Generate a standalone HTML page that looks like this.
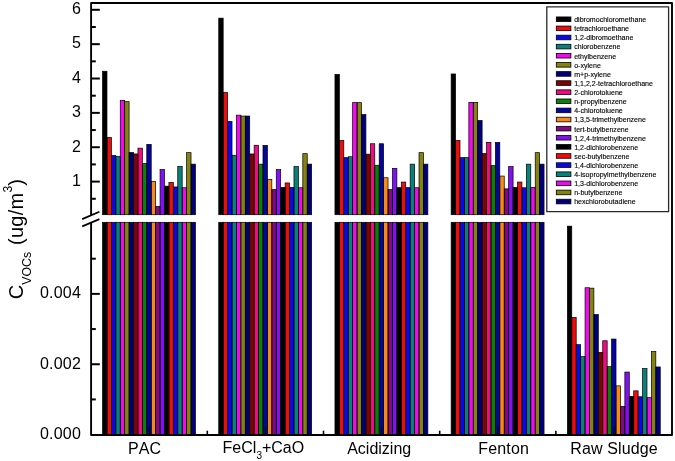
<!DOCTYPE html>
<html><head><meta charset="utf-8"><title>VOCs chart</title>
<style>
html,body{margin:0;padding:0;background:#fff;}
body{width:675px;height:461px;overflow:hidden;}
svg{display:block;will-change:transform;filter:blur(0.3px);font-kerning:none;font-family:"Liberation Sans", sans-serif;}
</style></head>
<body>
<svg width="675" height="461" viewBox="0 0 675 461">
<rect width="675" height="461" fill="#fff"/>
<rect x="102.55" y="71.25" width="4.424" height="143.45" fill="#000000"/>
<rect x="102.55" y="222.30" width="4.424" height="212.50" fill="#000000"/>
<rect x="106.97" y="137.55" width="4.424" height="77.15" fill="#EE0C0C"/>
<rect x="106.97" y="222.30" width="4.424" height="212.50" fill="#EE0C0C"/>
<rect x="111.40" y="155.55" width="4.424" height="59.15" fill="#0808EE"/>
<rect x="111.40" y="222.30" width="4.424" height="212.50" fill="#0808EE"/>
<rect x="115.82" y="156.45" width="4.424" height="58.25" fill="#0A807A"/>
<rect x="115.82" y="222.30" width="4.424" height="212.50" fill="#0A807A"/>
<rect x="120.25" y="100.45" width="4.424" height="114.25" fill="#F00AEE"/>
<rect x="120.25" y="222.30" width="4.424" height="212.50" fill="#F00AEE"/>
<rect x="124.67" y="101.65" width="4.424" height="113.05" fill="#848210"/>
<rect x="124.67" y="222.30" width="4.424" height="212.50" fill="#848210"/>
<rect x="129.09" y="152.45" width="4.424" height="62.25" fill="#00007E"/>
<rect x="129.09" y="222.30" width="4.424" height="212.50" fill="#00007E"/>
<rect x="133.52" y="153.95" width="4.424" height="60.75" fill="#7E0404"/>
<rect x="133.52" y="222.30" width="4.424" height="212.50" fill="#7E0404"/>
<rect x="137.94" y="148.15" width="4.424" height="66.55" fill="#EE0C82"/>
<rect x="137.94" y="222.30" width="4.424" height="212.50" fill="#EE0C82"/>
<rect x="142.37" y="163.45" width="4.424" height="51.25" fill="#0A800A"/>
<rect x="142.37" y="222.30" width="4.424" height="212.50" fill="#0A800A"/>
<rect x="146.79" y="144.35" width="4.424" height="70.35" fill="#0404A0"/>
<rect x="146.79" y="222.30" width="4.424" height="212.50" fill="#0404A0"/>
<rect x="151.21" y="181.35" width="4.424" height="33.35" fill="#F88818"/>
<rect x="151.21" y="222.30" width="4.424" height="212.50" fill="#F88818"/>
<rect x="155.64" y="206.45" width="4.424" height="8.25" fill="#800A80"/>
<rect x="155.64" y="222.30" width="4.424" height="212.50" fill="#800A80"/>
<rect x="160.06" y="169.55" width="4.424" height="45.15" fill="#8210F2"/>
<rect x="160.06" y="222.30" width="4.424" height="212.50" fill="#8210F2"/>
<rect x="164.49" y="186.15" width="4.424" height="28.55" fill="#000000"/>
<rect x="164.49" y="222.30" width="4.424" height="212.50" fill="#000000"/>
<rect x="168.91" y="182.45" width="4.424" height="32.25" fill="#EE0C0C"/>
<rect x="168.91" y="222.30" width="4.424" height="212.50" fill="#EE0C0C"/>
<rect x="173.33" y="186.95" width="4.424" height="27.75" fill="#0808EE"/>
<rect x="173.33" y="222.30" width="4.424" height="212.50" fill="#0808EE"/>
<rect x="177.76" y="166.35" width="4.424" height="48.35" fill="#0A807A"/>
<rect x="177.76" y="222.30" width="4.424" height="212.50" fill="#0A807A"/>
<rect x="182.18" y="187.75" width="4.424" height="26.95" fill="#F00AEE"/>
<rect x="182.18" y="222.30" width="4.424" height="212.50" fill="#F00AEE"/>
<rect x="186.61" y="152.65" width="4.424" height="62.05" fill="#848210"/>
<rect x="186.61" y="222.30" width="4.424" height="212.50" fill="#848210"/>
<rect x="191.03" y="164.15" width="4.424" height="50.55" fill="#00007E"/>
<rect x="191.03" y="222.30" width="4.424" height="212.50" fill="#00007E"/>
<rect x="218.75" y="18.15" width="4.424" height="196.55" fill="#000000"/>
<rect x="218.75" y="222.30" width="4.424" height="212.50" fill="#000000"/>
<rect x="223.17" y="92.45" width="4.424" height="122.25" fill="#EE0C0C"/>
<rect x="223.17" y="222.30" width="4.424" height="212.50" fill="#EE0C0C"/>
<rect x="227.60" y="121.35" width="4.424" height="93.35" fill="#0808EE"/>
<rect x="227.60" y="222.30" width="4.424" height="212.50" fill="#0808EE"/>
<rect x="232.02" y="155.25" width="4.424" height="59.45" fill="#0A807A"/>
<rect x="232.02" y="222.30" width="4.424" height="212.50" fill="#0A807A"/>
<rect x="236.45" y="115.15" width="4.424" height="99.55" fill="#F00AEE"/>
<rect x="236.45" y="222.30" width="4.424" height="212.50" fill="#F00AEE"/>
<rect x="240.87" y="116.05" width="4.424" height="98.65" fill="#848210"/>
<rect x="240.87" y="222.30" width="4.424" height="212.50" fill="#848210"/>
<rect x="245.29" y="116.05" width="4.424" height="98.65" fill="#00007E"/>
<rect x="245.29" y="222.30" width="4.424" height="212.50" fill="#00007E"/>
<rect x="249.72" y="153.95" width="4.424" height="60.75" fill="#7E0404"/>
<rect x="249.72" y="222.30" width="4.424" height="212.50" fill="#7E0404"/>
<rect x="254.14" y="145.25" width="4.424" height="69.45" fill="#EE0C82"/>
<rect x="254.14" y="222.30" width="4.424" height="212.50" fill="#EE0C82"/>
<rect x="258.57" y="164.15" width="4.424" height="50.55" fill="#0A800A"/>
<rect x="258.57" y="222.30" width="4.424" height="212.50" fill="#0A800A"/>
<rect x="262.99" y="145.35" width="4.424" height="69.35" fill="#0404A0"/>
<rect x="262.99" y="222.30" width="4.424" height="212.50" fill="#0404A0"/>
<rect x="267.41" y="179.35" width="4.424" height="35.35" fill="#F88818"/>
<rect x="267.41" y="222.30" width="4.424" height="212.50" fill="#F88818"/>
<rect x="271.84" y="189.55" width="4.424" height="25.15" fill="#800A80"/>
<rect x="271.84" y="222.30" width="4.424" height="212.50" fill="#800A80"/>
<rect x="276.26" y="169.55" width="4.424" height="45.15" fill="#8210F2"/>
<rect x="276.26" y="222.30" width="4.424" height="212.50" fill="#8210F2"/>
<rect x="280.69" y="187.35" width="4.424" height="27.35" fill="#000000"/>
<rect x="280.69" y="222.30" width="4.424" height="212.50" fill="#000000"/>
<rect x="285.11" y="182.95" width="4.424" height="31.75" fill="#EE0C0C"/>
<rect x="285.11" y="222.30" width="4.424" height="212.50" fill="#EE0C0C"/>
<rect x="289.53" y="187.35" width="4.424" height="27.35" fill="#0808EE"/>
<rect x="289.53" y="222.30" width="4.424" height="212.50" fill="#0808EE"/>
<rect x="293.96" y="166.55" width="4.424" height="48.15" fill="#0A807A"/>
<rect x="293.96" y="222.30" width="4.424" height="212.50" fill="#0A807A"/>
<rect x="298.38" y="187.75" width="4.424" height="26.95" fill="#F00AEE"/>
<rect x="298.38" y="222.30" width="4.424" height="212.50" fill="#F00AEE"/>
<rect x="302.81" y="153.65" width="4.424" height="61.05" fill="#848210"/>
<rect x="302.81" y="222.30" width="4.424" height="212.50" fill="#848210"/>
<rect x="307.23" y="164.15" width="4.424" height="50.55" fill="#00007E"/>
<rect x="307.23" y="222.30" width="4.424" height="212.50" fill="#00007E"/>
<rect x="334.95" y="74.35" width="4.424" height="140.35" fill="#000000"/>
<rect x="334.95" y="222.30" width="4.424" height="212.50" fill="#000000"/>
<rect x="339.37" y="140.45" width="4.424" height="74.25" fill="#EE0C0C"/>
<rect x="339.37" y="222.30" width="4.424" height="212.50" fill="#EE0C0C"/>
<rect x="343.80" y="157.65" width="4.424" height="57.05" fill="#0808EE"/>
<rect x="343.80" y="222.30" width="4.424" height="212.50" fill="#0808EE"/>
<rect x="348.22" y="156.75" width="4.424" height="57.95" fill="#0A807A"/>
<rect x="348.22" y="222.30" width="4.424" height="212.50" fill="#0A807A"/>
<rect x="352.65" y="102.65" width="4.424" height="112.05" fill="#F00AEE"/>
<rect x="352.65" y="222.30" width="4.424" height="212.50" fill="#F00AEE"/>
<rect x="357.07" y="102.65" width="4.424" height="112.05" fill="#848210"/>
<rect x="357.07" y="222.30" width="4.424" height="212.50" fill="#848210"/>
<rect x="361.49" y="114.55" width="4.424" height="100.15" fill="#00007E"/>
<rect x="361.49" y="222.30" width="4.424" height="212.50" fill="#00007E"/>
<rect x="365.92" y="154.15" width="4.424" height="60.55" fill="#7E0404"/>
<rect x="365.92" y="222.30" width="4.424" height="212.50" fill="#7E0404"/>
<rect x="370.34" y="143.75" width="4.424" height="70.95" fill="#EE0C82"/>
<rect x="370.34" y="222.30" width="4.424" height="212.50" fill="#EE0C82"/>
<rect x="374.77" y="165.25" width="4.424" height="49.45" fill="#0A800A"/>
<rect x="374.77" y="222.30" width="4.424" height="212.50" fill="#0A800A"/>
<rect x="379.19" y="143.75" width="4.424" height="70.95" fill="#0404A0"/>
<rect x="379.19" y="222.30" width="4.424" height="212.50" fill="#0404A0"/>
<rect x="383.61" y="177.75" width="4.424" height="36.95" fill="#F88818"/>
<rect x="383.61" y="222.30" width="4.424" height="212.50" fill="#F88818"/>
<rect x="388.04" y="189.55" width="4.424" height="25.15" fill="#800A80"/>
<rect x="388.04" y="222.30" width="4.424" height="212.50" fill="#800A80"/>
<rect x="392.46" y="168.35" width="4.424" height="46.35" fill="#8210F2"/>
<rect x="392.46" y="222.30" width="4.424" height="212.50" fill="#8210F2"/>
<rect x="396.89" y="187.65" width="4.424" height="27.05" fill="#000000"/>
<rect x="396.89" y="222.30" width="4.424" height="212.50" fill="#000000"/>
<rect x="401.31" y="182.05" width="4.424" height="32.65" fill="#EE0C0C"/>
<rect x="401.31" y="222.30" width="4.424" height="212.50" fill="#EE0C0C"/>
<rect x="405.73" y="187.65" width="4.424" height="27.05" fill="#0808EE"/>
<rect x="405.73" y="222.30" width="4.424" height="212.50" fill="#0808EE"/>
<rect x="410.16" y="164.15" width="4.424" height="50.55" fill="#0A807A"/>
<rect x="410.16" y="222.30" width="4.424" height="212.50" fill="#0A807A"/>
<rect x="414.58" y="187.75" width="4.424" height="26.95" fill="#F00AEE"/>
<rect x="414.58" y="222.30" width="4.424" height="212.50" fill="#F00AEE"/>
<rect x="419.01" y="152.65" width="4.424" height="62.05" fill="#848210"/>
<rect x="419.01" y="222.30" width="4.424" height="212.50" fill="#848210"/>
<rect x="423.43" y="164.15" width="4.424" height="50.55" fill="#00007E"/>
<rect x="423.43" y="222.30" width="4.424" height="212.50" fill="#00007E"/>
<rect x="451.15" y="73.95" width="4.424" height="140.75" fill="#000000"/>
<rect x="451.15" y="222.30" width="4.424" height="212.50" fill="#000000"/>
<rect x="455.57" y="140.45" width="4.424" height="74.25" fill="#EE0C0C"/>
<rect x="455.57" y="222.30" width="4.424" height="212.50" fill="#EE0C0C"/>
<rect x="460.00" y="157.65" width="4.424" height="57.05" fill="#0808EE"/>
<rect x="460.00" y="222.30" width="4.424" height="212.50" fill="#0808EE"/>
<rect x="464.42" y="157.65" width="4.424" height="57.05" fill="#0A807A"/>
<rect x="464.42" y="222.30" width="4.424" height="212.50" fill="#0A807A"/>
<rect x="468.85" y="102.35" width="4.424" height="112.35" fill="#F00AEE"/>
<rect x="468.85" y="222.30" width="4.424" height="212.50" fill="#F00AEE"/>
<rect x="473.27" y="102.35" width="4.424" height="112.35" fill="#848210"/>
<rect x="473.27" y="222.30" width="4.424" height="212.50" fill="#848210"/>
<rect x="477.69" y="120.45" width="4.424" height="94.25" fill="#00007E"/>
<rect x="477.69" y="222.30" width="4.424" height="212.50" fill="#00007E"/>
<rect x="482.12" y="153.55" width="4.424" height="61.15" fill="#7E0404"/>
<rect x="482.12" y="222.30" width="4.424" height="212.50" fill="#7E0404"/>
<rect x="486.54" y="142.35" width="4.424" height="72.35" fill="#EE0C82"/>
<rect x="486.54" y="222.30" width="4.424" height="212.50" fill="#EE0C82"/>
<rect x="490.97" y="165.65" width="4.424" height="49.05" fill="#0A800A"/>
<rect x="490.97" y="222.30" width="4.424" height="212.50" fill="#0A800A"/>
<rect x="495.39" y="142.35" width="4.424" height="72.35" fill="#0404A0"/>
<rect x="495.39" y="222.30" width="4.424" height="212.50" fill="#0404A0"/>
<rect x="499.81" y="176.05" width="4.424" height="38.65" fill="#F88818"/>
<rect x="499.81" y="222.30" width="4.424" height="212.50" fill="#F88818"/>
<rect x="504.24" y="188.85" width="4.424" height="25.85" fill="#800A80"/>
<rect x="504.24" y="222.30" width="4.424" height="212.50" fill="#800A80"/>
<rect x="508.66" y="166.55" width="4.424" height="48.15" fill="#8210F2"/>
<rect x="508.66" y="222.30" width="4.424" height="212.50" fill="#8210F2"/>
<rect x="513.09" y="187.35" width="4.424" height="27.35" fill="#000000"/>
<rect x="513.09" y="222.30" width="4.424" height="212.50" fill="#000000"/>
<rect x="517.51" y="182.05" width="4.424" height="32.65" fill="#EE0C0C"/>
<rect x="517.51" y="222.30" width="4.424" height="212.50" fill="#EE0C0C"/>
<rect x="521.93" y="187.75" width="4.424" height="26.95" fill="#0808EE"/>
<rect x="521.93" y="222.30" width="4.424" height="212.50" fill="#0808EE"/>
<rect x="526.36" y="164.15" width="4.424" height="50.55" fill="#0A807A"/>
<rect x="526.36" y="222.30" width="4.424" height="212.50" fill="#0A807A"/>
<rect x="530.78" y="187.35" width="4.424" height="27.35" fill="#F00AEE"/>
<rect x="530.78" y="222.30" width="4.424" height="212.50" fill="#F00AEE"/>
<rect x="535.21" y="152.65" width="4.424" height="62.05" fill="#848210"/>
<rect x="535.21" y="222.30" width="4.424" height="212.50" fill="#848210"/>
<rect x="539.63" y="164.15" width="4.424" height="50.55" fill="#00007E"/>
<rect x="539.63" y="222.30" width="4.424" height="212.50" fill="#00007E"/>
<rect x="567.35" y="226.15" width="4.424" height="208.65" fill="#000000"/>
<rect x="571.77" y="317.35" width="4.424" height="117.45" fill="#EE0C0C"/>
<rect x="576.20" y="344.65" width="4.424" height="90.15" fill="#0808EE"/>
<rect x="580.62" y="356.65" width="4.424" height="78.15" fill="#0A807A"/>
<rect x="585.05" y="287.75" width="4.424" height="147.05" fill="#F00AEE"/>
<rect x="589.47" y="288.15" width="4.424" height="146.65" fill="#848210"/>
<rect x="593.89" y="314.55" width="4.424" height="120.25" fill="#00007E"/>
<rect x="598.32" y="352.35" width="4.424" height="82.45" fill="#7E0404"/>
<rect x="602.74" y="340.75" width="4.424" height="94.05" fill="#EE0C82"/>
<rect x="607.17" y="366.65" width="4.424" height="68.15" fill="#0A800A"/>
<rect x="611.59" y="339.05" width="4.424" height="95.75" fill="#0404A0"/>
<rect x="616.01" y="385.85" width="4.424" height="48.95" fill="#F88818"/>
<rect x="620.44" y="406.35" width="4.424" height="28.45" fill="#800A80"/>
<rect x="624.86" y="372.05" width="4.424" height="62.75" fill="#8210F2"/>
<rect x="629.29" y="396.35" width="4.424" height="38.45" fill="#000000"/>
<rect x="633.71" y="390.85" width="4.424" height="43.95" fill="#EE0C0C"/>
<rect x="638.13" y="396.75" width="4.424" height="38.05" fill="#0808EE"/>
<rect x="642.56" y="368.55" width="4.424" height="66.25" fill="#0A807A"/>
<rect x="646.98" y="397.65" width="4.424" height="37.15" fill="#F00AEE"/>
<rect x="651.41" y="351.55" width="4.424" height="83.25" fill="#848210"/>
<rect x="655.83" y="366.95" width="4.424" height="67.85" fill="#00007E"/>
<rect x="102.55" y="71.25" width="4.424" height="143.45" fill="none" stroke="#000" stroke-width="0.7"/>
<rect x="102.55" y="222.30" width="4.424" height="212.50" fill="none" stroke="#000" stroke-width="0.7"/>
<rect x="106.97" y="137.55" width="4.424" height="77.15" fill="none" stroke="#000" stroke-width="0.7"/>
<rect x="106.97" y="222.30" width="4.424" height="212.50" fill="none" stroke="#000" stroke-width="0.7"/>
<rect x="111.40" y="155.55" width="4.424" height="59.15" fill="none" stroke="#000" stroke-width="0.7"/>
<rect x="111.40" y="222.30" width="4.424" height="212.50" fill="none" stroke="#000" stroke-width="0.7"/>
<rect x="115.82" y="156.45" width="4.424" height="58.25" fill="none" stroke="#000" stroke-width="0.7"/>
<rect x="115.82" y="222.30" width="4.424" height="212.50" fill="none" stroke="#000" stroke-width="0.7"/>
<rect x="120.25" y="100.45" width="4.424" height="114.25" fill="none" stroke="#000" stroke-width="0.7"/>
<rect x="120.25" y="222.30" width="4.424" height="212.50" fill="none" stroke="#000" stroke-width="0.7"/>
<rect x="124.67" y="101.65" width="4.424" height="113.05" fill="none" stroke="#000" stroke-width="0.7"/>
<rect x="124.67" y="222.30" width="4.424" height="212.50" fill="none" stroke="#000" stroke-width="0.7"/>
<rect x="129.09" y="152.45" width="4.424" height="62.25" fill="none" stroke="#000" stroke-width="0.7"/>
<rect x="129.09" y="222.30" width="4.424" height="212.50" fill="none" stroke="#000" stroke-width="0.7"/>
<rect x="133.52" y="153.95" width="4.424" height="60.75" fill="none" stroke="#000" stroke-width="0.7"/>
<rect x="133.52" y="222.30" width="4.424" height="212.50" fill="none" stroke="#000" stroke-width="0.7"/>
<rect x="137.94" y="148.15" width="4.424" height="66.55" fill="none" stroke="#000" stroke-width="0.7"/>
<rect x="137.94" y="222.30" width="4.424" height="212.50" fill="none" stroke="#000" stroke-width="0.7"/>
<rect x="142.37" y="163.45" width="4.424" height="51.25" fill="none" stroke="#000" stroke-width="0.7"/>
<rect x="142.37" y="222.30" width="4.424" height="212.50" fill="none" stroke="#000" stroke-width="0.7"/>
<rect x="146.79" y="144.35" width="4.424" height="70.35" fill="none" stroke="#000" stroke-width="0.7"/>
<rect x="146.79" y="222.30" width="4.424" height="212.50" fill="none" stroke="#000" stroke-width="0.7"/>
<rect x="151.21" y="181.35" width="4.424" height="33.35" fill="none" stroke="#000" stroke-width="0.7"/>
<rect x="151.21" y="222.30" width="4.424" height="212.50" fill="none" stroke="#000" stroke-width="0.7"/>
<rect x="155.64" y="206.45" width="4.424" height="8.25" fill="none" stroke="#000" stroke-width="0.7"/>
<rect x="155.64" y="222.30" width="4.424" height="212.50" fill="none" stroke="#000" stroke-width="0.7"/>
<rect x="160.06" y="169.55" width="4.424" height="45.15" fill="none" stroke="#000" stroke-width="0.7"/>
<rect x="160.06" y="222.30" width="4.424" height="212.50" fill="none" stroke="#000" stroke-width="0.7"/>
<rect x="164.49" y="186.15" width="4.424" height="28.55" fill="none" stroke="#000" stroke-width="0.7"/>
<rect x="164.49" y="222.30" width="4.424" height="212.50" fill="none" stroke="#000" stroke-width="0.7"/>
<rect x="168.91" y="182.45" width="4.424" height="32.25" fill="none" stroke="#000" stroke-width="0.7"/>
<rect x="168.91" y="222.30" width="4.424" height="212.50" fill="none" stroke="#000" stroke-width="0.7"/>
<rect x="173.33" y="186.95" width="4.424" height="27.75" fill="none" stroke="#000" stroke-width="0.7"/>
<rect x="173.33" y="222.30" width="4.424" height="212.50" fill="none" stroke="#000" stroke-width="0.7"/>
<rect x="177.76" y="166.35" width="4.424" height="48.35" fill="none" stroke="#000" stroke-width="0.7"/>
<rect x="177.76" y="222.30" width="4.424" height="212.50" fill="none" stroke="#000" stroke-width="0.7"/>
<rect x="182.18" y="187.75" width="4.424" height="26.95" fill="none" stroke="#000" stroke-width="0.7"/>
<rect x="182.18" y="222.30" width="4.424" height="212.50" fill="none" stroke="#000" stroke-width="0.7"/>
<rect x="186.61" y="152.65" width="4.424" height="62.05" fill="none" stroke="#000" stroke-width="0.7"/>
<rect x="186.61" y="222.30" width="4.424" height="212.50" fill="none" stroke="#000" stroke-width="0.7"/>
<rect x="191.03" y="164.15" width="4.424" height="50.55" fill="none" stroke="#000" stroke-width="0.7"/>
<rect x="191.03" y="222.30" width="4.424" height="212.50" fill="none" stroke="#000" stroke-width="0.7"/>
<rect x="218.75" y="18.15" width="4.424" height="196.55" fill="none" stroke="#000" stroke-width="0.7"/>
<rect x="218.75" y="222.30" width="4.424" height="212.50" fill="none" stroke="#000" stroke-width="0.7"/>
<rect x="223.17" y="92.45" width="4.424" height="122.25" fill="none" stroke="#000" stroke-width="0.7"/>
<rect x="223.17" y="222.30" width="4.424" height="212.50" fill="none" stroke="#000" stroke-width="0.7"/>
<rect x="227.60" y="121.35" width="4.424" height="93.35" fill="none" stroke="#000" stroke-width="0.7"/>
<rect x="227.60" y="222.30" width="4.424" height="212.50" fill="none" stroke="#000" stroke-width="0.7"/>
<rect x="232.02" y="155.25" width="4.424" height="59.45" fill="none" stroke="#000" stroke-width="0.7"/>
<rect x="232.02" y="222.30" width="4.424" height="212.50" fill="none" stroke="#000" stroke-width="0.7"/>
<rect x="236.45" y="115.15" width="4.424" height="99.55" fill="none" stroke="#000" stroke-width="0.7"/>
<rect x="236.45" y="222.30" width="4.424" height="212.50" fill="none" stroke="#000" stroke-width="0.7"/>
<rect x="240.87" y="116.05" width="4.424" height="98.65" fill="none" stroke="#000" stroke-width="0.7"/>
<rect x="240.87" y="222.30" width="4.424" height="212.50" fill="none" stroke="#000" stroke-width="0.7"/>
<rect x="245.29" y="116.05" width="4.424" height="98.65" fill="none" stroke="#000" stroke-width="0.7"/>
<rect x="245.29" y="222.30" width="4.424" height="212.50" fill="none" stroke="#000" stroke-width="0.7"/>
<rect x="249.72" y="153.95" width="4.424" height="60.75" fill="none" stroke="#000" stroke-width="0.7"/>
<rect x="249.72" y="222.30" width="4.424" height="212.50" fill="none" stroke="#000" stroke-width="0.7"/>
<rect x="254.14" y="145.25" width="4.424" height="69.45" fill="none" stroke="#000" stroke-width="0.7"/>
<rect x="254.14" y="222.30" width="4.424" height="212.50" fill="none" stroke="#000" stroke-width="0.7"/>
<rect x="258.57" y="164.15" width="4.424" height="50.55" fill="none" stroke="#000" stroke-width="0.7"/>
<rect x="258.57" y="222.30" width="4.424" height="212.50" fill="none" stroke="#000" stroke-width="0.7"/>
<rect x="262.99" y="145.35" width="4.424" height="69.35" fill="none" stroke="#000" stroke-width="0.7"/>
<rect x="262.99" y="222.30" width="4.424" height="212.50" fill="none" stroke="#000" stroke-width="0.7"/>
<rect x="267.41" y="179.35" width="4.424" height="35.35" fill="none" stroke="#000" stroke-width="0.7"/>
<rect x="267.41" y="222.30" width="4.424" height="212.50" fill="none" stroke="#000" stroke-width="0.7"/>
<rect x="271.84" y="189.55" width="4.424" height="25.15" fill="none" stroke="#000" stroke-width="0.7"/>
<rect x="271.84" y="222.30" width="4.424" height="212.50" fill="none" stroke="#000" stroke-width="0.7"/>
<rect x="276.26" y="169.55" width="4.424" height="45.15" fill="none" stroke="#000" stroke-width="0.7"/>
<rect x="276.26" y="222.30" width="4.424" height="212.50" fill="none" stroke="#000" stroke-width="0.7"/>
<rect x="280.69" y="187.35" width="4.424" height="27.35" fill="none" stroke="#000" stroke-width="0.7"/>
<rect x="280.69" y="222.30" width="4.424" height="212.50" fill="none" stroke="#000" stroke-width="0.7"/>
<rect x="285.11" y="182.95" width="4.424" height="31.75" fill="none" stroke="#000" stroke-width="0.7"/>
<rect x="285.11" y="222.30" width="4.424" height="212.50" fill="none" stroke="#000" stroke-width="0.7"/>
<rect x="289.53" y="187.35" width="4.424" height="27.35" fill="none" stroke="#000" stroke-width="0.7"/>
<rect x="289.53" y="222.30" width="4.424" height="212.50" fill="none" stroke="#000" stroke-width="0.7"/>
<rect x="293.96" y="166.55" width="4.424" height="48.15" fill="none" stroke="#000" stroke-width="0.7"/>
<rect x="293.96" y="222.30" width="4.424" height="212.50" fill="none" stroke="#000" stroke-width="0.7"/>
<rect x="298.38" y="187.75" width="4.424" height="26.95" fill="none" stroke="#000" stroke-width="0.7"/>
<rect x="298.38" y="222.30" width="4.424" height="212.50" fill="none" stroke="#000" stroke-width="0.7"/>
<rect x="302.81" y="153.65" width="4.424" height="61.05" fill="none" stroke="#000" stroke-width="0.7"/>
<rect x="302.81" y="222.30" width="4.424" height="212.50" fill="none" stroke="#000" stroke-width="0.7"/>
<rect x="307.23" y="164.15" width="4.424" height="50.55" fill="none" stroke="#000" stroke-width="0.7"/>
<rect x="307.23" y="222.30" width="4.424" height="212.50" fill="none" stroke="#000" stroke-width="0.7"/>
<rect x="334.95" y="74.35" width="4.424" height="140.35" fill="none" stroke="#000" stroke-width="0.7"/>
<rect x="334.95" y="222.30" width="4.424" height="212.50" fill="none" stroke="#000" stroke-width="0.7"/>
<rect x="339.37" y="140.45" width="4.424" height="74.25" fill="none" stroke="#000" stroke-width="0.7"/>
<rect x="339.37" y="222.30" width="4.424" height="212.50" fill="none" stroke="#000" stroke-width="0.7"/>
<rect x="343.80" y="157.65" width="4.424" height="57.05" fill="none" stroke="#000" stroke-width="0.7"/>
<rect x="343.80" y="222.30" width="4.424" height="212.50" fill="none" stroke="#000" stroke-width="0.7"/>
<rect x="348.22" y="156.75" width="4.424" height="57.95" fill="none" stroke="#000" stroke-width="0.7"/>
<rect x="348.22" y="222.30" width="4.424" height="212.50" fill="none" stroke="#000" stroke-width="0.7"/>
<rect x="352.65" y="102.65" width="4.424" height="112.05" fill="none" stroke="#000" stroke-width="0.7"/>
<rect x="352.65" y="222.30" width="4.424" height="212.50" fill="none" stroke="#000" stroke-width="0.7"/>
<rect x="357.07" y="102.65" width="4.424" height="112.05" fill="none" stroke="#000" stroke-width="0.7"/>
<rect x="357.07" y="222.30" width="4.424" height="212.50" fill="none" stroke="#000" stroke-width="0.7"/>
<rect x="361.49" y="114.55" width="4.424" height="100.15" fill="none" stroke="#000" stroke-width="0.7"/>
<rect x="361.49" y="222.30" width="4.424" height="212.50" fill="none" stroke="#000" stroke-width="0.7"/>
<rect x="365.92" y="154.15" width="4.424" height="60.55" fill="none" stroke="#000" stroke-width="0.7"/>
<rect x="365.92" y="222.30" width="4.424" height="212.50" fill="none" stroke="#000" stroke-width="0.7"/>
<rect x="370.34" y="143.75" width="4.424" height="70.95" fill="none" stroke="#000" stroke-width="0.7"/>
<rect x="370.34" y="222.30" width="4.424" height="212.50" fill="none" stroke="#000" stroke-width="0.7"/>
<rect x="374.77" y="165.25" width="4.424" height="49.45" fill="none" stroke="#000" stroke-width="0.7"/>
<rect x="374.77" y="222.30" width="4.424" height="212.50" fill="none" stroke="#000" stroke-width="0.7"/>
<rect x="379.19" y="143.75" width="4.424" height="70.95" fill="none" stroke="#000" stroke-width="0.7"/>
<rect x="379.19" y="222.30" width="4.424" height="212.50" fill="none" stroke="#000" stroke-width="0.7"/>
<rect x="383.61" y="177.75" width="4.424" height="36.95" fill="none" stroke="#000" stroke-width="0.7"/>
<rect x="383.61" y="222.30" width="4.424" height="212.50" fill="none" stroke="#000" stroke-width="0.7"/>
<rect x="388.04" y="189.55" width="4.424" height="25.15" fill="none" stroke="#000" stroke-width="0.7"/>
<rect x="388.04" y="222.30" width="4.424" height="212.50" fill="none" stroke="#000" stroke-width="0.7"/>
<rect x="392.46" y="168.35" width="4.424" height="46.35" fill="none" stroke="#000" stroke-width="0.7"/>
<rect x="392.46" y="222.30" width="4.424" height="212.50" fill="none" stroke="#000" stroke-width="0.7"/>
<rect x="396.89" y="187.65" width="4.424" height="27.05" fill="none" stroke="#000" stroke-width="0.7"/>
<rect x="396.89" y="222.30" width="4.424" height="212.50" fill="none" stroke="#000" stroke-width="0.7"/>
<rect x="401.31" y="182.05" width="4.424" height="32.65" fill="none" stroke="#000" stroke-width="0.7"/>
<rect x="401.31" y="222.30" width="4.424" height="212.50" fill="none" stroke="#000" stroke-width="0.7"/>
<rect x="405.73" y="187.65" width="4.424" height="27.05" fill="none" stroke="#000" stroke-width="0.7"/>
<rect x="405.73" y="222.30" width="4.424" height="212.50" fill="none" stroke="#000" stroke-width="0.7"/>
<rect x="410.16" y="164.15" width="4.424" height="50.55" fill="none" stroke="#000" stroke-width="0.7"/>
<rect x="410.16" y="222.30" width="4.424" height="212.50" fill="none" stroke="#000" stroke-width="0.7"/>
<rect x="414.58" y="187.75" width="4.424" height="26.95" fill="none" stroke="#000" stroke-width="0.7"/>
<rect x="414.58" y="222.30" width="4.424" height="212.50" fill="none" stroke="#000" stroke-width="0.7"/>
<rect x="419.01" y="152.65" width="4.424" height="62.05" fill="none" stroke="#000" stroke-width="0.7"/>
<rect x="419.01" y="222.30" width="4.424" height="212.50" fill="none" stroke="#000" stroke-width="0.7"/>
<rect x="423.43" y="164.15" width="4.424" height="50.55" fill="none" stroke="#000" stroke-width="0.7"/>
<rect x="423.43" y="222.30" width="4.424" height="212.50" fill="none" stroke="#000" stroke-width="0.7"/>
<rect x="451.15" y="73.95" width="4.424" height="140.75" fill="none" stroke="#000" stroke-width="0.7"/>
<rect x="451.15" y="222.30" width="4.424" height="212.50" fill="none" stroke="#000" stroke-width="0.7"/>
<rect x="455.57" y="140.45" width="4.424" height="74.25" fill="none" stroke="#000" stroke-width="0.7"/>
<rect x="455.57" y="222.30" width="4.424" height="212.50" fill="none" stroke="#000" stroke-width="0.7"/>
<rect x="460.00" y="157.65" width="4.424" height="57.05" fill="none" stroke="#000" stroke-width="0.7"/>
<rect x="460.00" y="222.30" width="4.424" height="212.50" fill="none" stroke="#000" stroke-width="0.7"/>
<rect x="464.42" y="157.65" width="4.424" height="57.05" fill="none" stroke="#000" stroke-width="0.7"/>
<rect x="464.42" y="222.30" width="4.424" height="212.50" fill="none" stroke="#000" stroke-width="0.7"/>
<rect x="468.85" y="102.35" width="4.424" height="112.35" fill="none" stroke="#000" stroke-width="0.7"/>
<rect x="468.85" y="222.30" width="4.424" height="212.50" fill="none" stroke="#000" stroke-width="0.7"/>
<rect x="473.27" y="102.35" width="4.424" height="112.35" fill="none" stroke="#000" stroke-width="0.7"/>
<rect x="473.27" y="222.30" width="4.424" height="212.50" fill="none" stroke="#000" stroke-width="0.7"/>
<rect x="477.69" y="120.45" width="4.424" height="94.25" fill="none" stroke="#000" stroke-width="0.7"/>
<rect x="477.69" y="222.30" width="4.424" height="212.50" fill="none" stroke="#000" stroke-width="0.7"/>
<rect x="482.12" y="153.55" width="4.424" height="61.15" fill="none" stroke="#000" stroke-width="0.7"/>
<rect x="482.12" y="222.30" width="4.424" height="212.50" fill="none" stroke="#000" stroke-width="0.7"/>
<rect x="486.54" y="142.35" width="4.424" height="72.35" fill="none" stroke="#000" stroke-width="0.7"/>
<rect x="486.54" y="222.30" width="4.424" height="212.50" fill="none" stroke="#000" stroke-width="0.7"/>
<rect x="490.97" y="165.65" width="4.424" height="49.05" fill="none" stroke="#000" stroke-width="0.7"/>
<rect x="490.97" y="222.30" width="4.424" height="212.50" fill="none" stroke="#000" stroke-width="0.7"/>
<rect x="495.39" y="142.35" width="4.424" height="72.35" fill="none" stroke="#000" stroke-width="0.7"/>
<rect x="495.39" y="222.30" width="4.424" height="212.50" fill="none" stroke="#000" stroke-width="0.7"/>
<rect x="499.81" y="176.05" width="4.424" height="38.65" fill="none" stroke="#000" stroke-width="0.7"/>
<rect x="499.81" y="222.30" width="4.424" height="212.50" fill="none" stroke="#000" stroke-width="0.7"/>
<rect x="504.24" y="188.85" width="4.424" height="25.85" fill="none" stroke="#000" stroke-width="0.7"/>
<rect x="504.24" y="222.30" width="4.424" height="212.50" fill="none" stroke="#000" stroke-width="0.7"/>
<rect x="508.66" y="166.55" width="4.424" height="48.15" fill="none" stroke="#000" stroke-width="0.7"/>
<rect x="508.66" y="222.30" width="4.424" height="212.50" fill="none" stroke="#000" stroke-width="0.7"/>
<rect x="513.09" y="187.35" width="4.424" height="27.35" fill="none" stroke="#000" stroke-width="0.7"/>
<rect x="513.09" y="222.30" width="4.424" height="212.50" fill="none" stroke="#000" stroke-width="0.7"/>
<rect x="517.51" y="182.05" width="4.424" height="32.65" fill="none" stroke="#000" stroke-width="0.7"/>
<rect x="517.51" y="222.30" width="4.424" height="212.50" fill="none" stroke="#000" stroke-width="0.7"/>
<rect x="521.93" y="187.75" width="4.424" height="26.95" fill="none" stroke="#000" stroke-width="0.7"/>
<rect x="521.93" y="222.30" width="4.424" height="212.50" fill="none" stroke="#000" stroke-width="0.7"/>
<rect x="526.36" y="164.15" width="4.424" height="50.55" fill="none" stroke="#000" stroke-width="0.7"/>
<rect x="526.36" y="222.30" width="4.424" height="212.50" fill="none" stroke="#000" stroke-width="0.7"/>
<rect x="530.78" y="187.35" width="4.424" height="27.35" fill="none" stroke="#000" stroke-width="0.7"/>
<rect x="530.78" y="222.30" width="4.424" height="212.50" fill="none" stroke="#000" stroke-width="0.7"/>
<rect x="535.21" y="152.65" width="4.424" height="62.05" fill="none" stroke="#000" stroke-width="0.7"/>
<rect x="535.21" y="222.30" width="4.424" height="212.50" fill="none" stroke="#000" stroke-width="0.7"/>
<rect x="539.63" y="164.15" width="4.424" height="50.55" fill="none" stroke="#000" stroke-width="0.7"/>
<rect x="539.63" y="222.30" width="4.424" height="212.50" fill="none" stroke="#000" stroke-width="0.7"/>
<rect x="567.35" y="226.15" width="4.424" height="208.65" fill="none" stroke="#000" stroke-width="0.7"/>
<rect x="571.77" y="317.35" width="4.424" height="117.45" fill="none" stroke="#000" stroke-width="0.7"/>
<rect x="576.20" y="344.65" width="4.424" height="90.15" fill="none" stroke="#000" stroke-width="0.7"/>
<rect x="580.62" y="356.65" width="4.424" height="78.15" fill="none" stroke="#000" stroke-width="0.7"/>
<rect x="585.05" y="287.75" width="4.424" height="147.05" fill="none" stroke="#000" stroke-width="0.7"/>
<rect x="589.47" y="288.15" width="4.424" height="146.65" fill="none" stroke="#000" stroke-width="0.7"/>
<rect x="593.89" y="314.55" width="4.424" height="120.25" fill="none" stroke="#000" stroke-width="0.7"/>
<rect x="598.32" y="352.35" width="4.424" height="82.45" fill="none" stroke="#000" stroke-width="0.7"/>
<rect x="602.74" y="340.75" width="4.424" height="94.05" fill="none" stroke="#000" stroke-width="0.7"/>
<rect x="607.17" y="366.65" width="4.424" height="68.15" fill="none" stroke="#000" stroke-width="0.7"/>
<rect x="611.59" y="339.05" width="4.424" height="95.75" fill="none" stroke="#000" stroke-width="0.7"/>
<rect x="616.01" y="385.85" width="4.424" height="48.95" fill="none" stroke="#000" stroke-width="0.7"/>
<rect x="620.44" y="406.35" width="4.424" height="28.45" fill="none" stroke="#000" stroke-width="0.7"/>
<rect x="624.86" y="372.05" width="4.424" height="62.75" fill="none" stroke="#000" stroke-width="0.7"/>
<rect x="629.29" y="396.35" width="4.424" height="38.45" fill="none" stroke="#000" stroke-width="0.7"/>
<rect x="633.71" y="390.85" width="4.424" height="43.95" fill="none" stroke="#000" stroke-width="0.7"/>
<rect x="638.13" y="396.75" width="4.424" height="38.05" fill="none" stroke="#000" stroke-width="0.7"/>
<rect x="642.56" y="368.55" width="4.424" height="66.25" fill="none" stroke="#000" stroke-width="0.7"/>
<rect x="646.98" y="397.65" width="4.424" height="37.15" fill="none" stroke="#000" stroke-width="0.7"/>
<rect x="651.41" y="351.55" width="4.424" height="83.25" fill="none" stroke="#000" stroke-width="0.7"/>
<rect x="655.83" y="366.95" width="4.424" height="67.85" fill="none" stroke="#000" stroke-width="0.7"/>
<path d="M91.10,215.3 L91.10,3.00 L672.00,3.00 L672.00,435.00 L91.10,435.00 L91.10,222.7" fill="none" stroke="#000" stroke-width="1.9" stroke-linejoin="round"/>
<line x1="82.2" y1="219.1" x2="99.4" y2="211.7" stroke="#000" stroke-width="1.7"/>
<line x1="82.2" y1="226.4" x2="99.4" y2="219.1" stroke="#000" stroke-width="1.7"/>
<line x1="91.10" y1="198.78" x2="95.80" y2="198.78" stroke="#000" stroke-width="2.0"/>
<line x1="91.10" y1="181.60" x2="99.80" y2="181.60" stroke="#000" stroke-width="2.0"/>
<line x1="91.10" y1="164.42" x2="95.80" y2="164.42" stroke="#000" stroke-width="2.0"/>
<line x1="91.10" y1="147.24" x2="99.80" y2="147.24" stroke="#000" stroke-width="2.0"/>
<line x1="91.10" y1="130.06" x2="95.80" y2="130.06" stroke="#000" stroke-width="2.0"/>
<line x1="91.10" y1="112.88" x2="99.80" y2="112.88" stroke="#000" stroke-width="2.0"/>
<line x1="91.10" y1="95.70" x2="95.80" y2="95.70" stroke="#000" stroke-width="2.0"/>
<line x1="91.10" y1="78.52" x2="99.80" y2="78.52" stroke="#000" stroke-width="2.0"/>
<line x1="91.10" y1="61.34" x2="95.80" y2="61.34" stroke="#000" stroke-width="2.0"/>
<line x1="91.10" y1="44.16" x2="99.80" y2="44.16" stroke="#000" stroke-width="2.0"/>
<line x1="91.10" y1="26.98" x2="95.80" y2="26.98" stroke="#000" stroke-width="2.0"/>
<line x1="91.10" y1="9.80" x2="99.80" y2="9.80" stroke="#000" stroke-width="2.0"/>
<line x1="91.10" y1="399.42" x2="95.80" y2="399.42" stroke="#000" stroke-width="2.0"/>
<line x1="91.10" y1="364.24" x2="99.80" y2="364.24" stroke="#000" stroke-width="2.0"/>
<line x1="91.10" y1="329.06" x2="95.80" y2="329.06" stroke="#000" stroke-width="2.0"/>
<line x1="91.10" y1="293.88" x2="99.80" y2="293.88" stroke="#000" stroke-width="2.0"/>
<line x1="91.10" y1="258.70" x2="95.80" y2="258.70" stroke="#000" stroke-width="2.0"/>
<line x1="149.20" y1="435.00" x2="149.20" y2="427.00" stroke="#000" stroke-width="1.0"/>
<line x1="265.40" y1="435.00" x2="265.40" y2="427.00" stroke="#000" stroke-width="1.0"/>
<line x1="381.60" y1="435.00" x2="381.60" y2="427.00" stroke="#000" stroke-width="1.0"/>
<line x1="497.80" y1="435.00" x2="497.80" y2="427.00" stroke="#000" stroke-width="1.0"/>
<line x1="614.00" y1="435.00" x2="614.00" y2="427.00" stroke="#000" stroke-width="1.0"/>
<line x1="207.30" y1="435.00" x2="207.30" y2="430.70" stroke="#000" stroke-width="1.6"/>
<line x1="323.50" y1="435.00" x2="323.50" y2="430.70" stroke="#000" stroke-width="1.6"/>
<line x1="439.70" y1="435.00" x2="439.70" y2="430.70" stroke="#000" stroke-width="1.6"/>
<line x1="555.90" y1="435.00" x2="555.90" y2="430.70" stroke="#000" stroke-width="1.6"/>
<text x="80.9" y="186.05" text-anchor="end" font-size="16">1</text>
<text x="80.9" y="151.60" text-anchor="end" font-size="16">2</text>
<text x="80.9" y="117.15" text-anchor="end" font-size="16">3</text>
<text x="80.9" y="82.70" text-anchor="end" font-size="16">4</text>
<text x="80.9" y="48.25" text-anchor="end" font-size="16">5</text>
<text x="80.9" y="13.80" text-anchor="end" font-size="16">6</text>
<text x="81.0" y="439.20" text-anchor="end" font-size="16" letter-spacing="0.2">0.000</text>
<text x="81.0" y="368.54" text-anchor="end" font-size="16" letter-spacing="0.2">0.002</text>
<text x="81.0" y="297.88" text-anchor="end" font-size="16" letter-spacing="0.2">0.004</text>
<text x="128.1" y="454.0" font-size="16">PAC</text>
<text x="222.6" y="453.2" font-size="16" style="font-kerning:normal">FeCl<tspan font-size="10" dy="5.6">3</tspan><tspan dy="-5.6">+CaO</tspan></text>
<text x="347.2" y="453.6" font-size="16">Acidizing</text>
<text x="478.2" y="453.8" font-size="16" letter-spacing="0.2">Fenton</text>
<text x="570.3" y="454.4" font-size="16" letter-spacing="0.12">Raw Sludge</text>
<text transform="translate(23.3,299.3) rotate(-90)" font-size="20">C<tspan font-size="12.4" dy="7.4">VOCs</tspan><tspan dy="-7.4" dx="0.9" letter-spacing="0.3"> (ug/m</tspan><tspan font-size="12.2" dy="-11.2">3</tspan><tspan dy="11.2">)</tspan></text>
<rect x="546.8" y="6.8" width="121.80" height="204.90" fill="#fff" stroke="#2a2a2a" stroke-width="1.3" stroke-linejoin="round"/>
<rect x="556.3" y="16.95" width="14.6" height="4.6" fill="#000000" stroke="#000" stroke-width="0.8"/>
<text x="574.2" y="22.15" font-size="7.05" fill="#000" stroke="#000" stroke-width="0.12">dibromochloromethane</text>
<rect x="556.3" y="26.07" width="14.6" height="4.6" fill="#EE0C0C" stroke="#000" stroke-width="0.8"/>
<text x="574.2" y="31.27" font-size="7.05" fill="#000" stroke="#000" stroke-width="0.12">tetrachloroethane</text>
<rect x="556.3" y="35.18" width="14.6" height="4.6" fill="#0808EE" stroke="#000" stroke-width="0.8"/>
<text x="574.2" y="40.38" font-size="7.05" fill="#000" stroke="#000" stroke-width="0.12">1,2-dibromoethane</text>
<rect x="556.3" y="44.30" width="14.6" height="4.6" fill="#0A807A" stroke="#000" stroke-width="0.8"/>
<text x="574.2" y="49.49" font-size="7.05" fill="#000" stroke="#000" stroke-width="0.12">chlorobenzene</text>
<rect x="556.3" y="53.41" width="14.6" height="4.6" fill="#F00AEE" stroke="#000" stroke-width="0.8"/>
<text x="574.2" y="58.61" font-size="7.05" fill="#000" stroke="#000" stroke-width="0.12">ethylbenzene</text>
<rect x="556.3" y="62.53" width="14.6" height="4.6" fill="#848210" stroke="#000" stroke-width="0.8"/>
<text x="574.2" y="67.73" font-size="7.05" fill="#000" stroke="#000" stroke-width="0.12">o-xylene</text>
<rect x="556.3" y="71.64" width="14.6" height="4.6" fill="#00007E" stroke="#000" stroke-width="0.8"/>
<text x="574.2" y="76.84" font-size="7.05" fill="#000" stroke="#000" stroke-width="0.12">m+p-xylene</text>
<rect x="556.3" y="80.76" width="14.6" height="4.6" fill="#7E0404" stroke="#000" stroke-width="0.8"/>
<text x="574.2" y="85.96" font-size="7.05" fill="#000" stroke="#000" stroke-width="0.12">1,1,2,2-tetrachloroethane</text>
<rect x="556.3" y="89.87" width="14.6" height="4.6" fill="#EE0C82" stroke="#000" stroke-width="0.8"/>
<text x="574.2" y="95.07" font-size="7.05" fill="#000" stroke="#000" stroke-width="0.12">2-chlorotoluene</text>
<rect x="556.3" y="98.98" width="14.6" height="4.6" fill="#0A800A" stroke="#000" stroke-width="0.8"/>
<text x="574.2" y="104.19" font-size="7.05" fill="#000" stroke="#000" stroke-width="0.12">n-propylbenzene</text>
<rect x="556.3" y="108.10" width="14.6" height="4.6" fill="#0404A0" stroke="#000" stroke-width="0.8"/>
<text x="574.2" y="113.30" font-size="7.05" fill="#000" stroke="#000" stroke-width="0.12">4-chlorotoluene</text>
<rect x="556.3" y="117.22" width="14.6" height="4.6" fill="#F88818" stroke="#000" stroke-width="0.8"/>
<text x="574.2" y="122.42" font-size="7.05" fill="#000" stroke="#000" stroke-width="0.12">1,3,5-trimethylbenzene</text>
<rect x="556.3" y="126.33" width="14.6" height="4.6" fill="#800A80" stroke="#000" stroke-width="0.8"/>
<text x="574.2" y="131.53" font-size="7.05" fill="#000" stroke="#000" stroke-width="0.12">tert-butylbenzene</text>
<rect x="556.3" y="135.44" width="14.6" height="4.6" fill="#8210F2" stroke="#000" stroke-width="0.8"/>
<text x="574.2" y="140.65" font-size="7.05" fill="#000" stroke="#000" stroke-width="0.12">1,2,4-trimethylbenzene</text>
<rect x="556.3" y="144.56" width="14.6" height="4.6" fill="#000000" stroke="#000" stroke-width="0.8"/>
<text x="574.2" y="149.76" font-size="7.05" fill="#000" stroke="#000" stroke-width="0.12">1,2-dichlorobenzene</text>
<rect x="556.3" y="153.67" width="14.6" height="4.6" fill="#EE0C0C" stroke="#000" stroke-width="0.8"/>
<text x="574.2" y="158.88" font-size="7.05" fill="#000" stroke="#000" stroke-width="0.12">sec-butylbenzene</text>
<rect x="556.3" y="162.79" width="14.6" height="4.6" fill="#0808EE" stroke="#000" stroke-width="0.8"/>
<text x="574.2" y="167.99" font-size="7.05" fill="#000" stroke="#000" stroke-width="0.12">1,4-dichlorobenzene</text>
<rect x="556.3" y="171.91" width="14.6" height="4.6" fill="#0A807A" stroke="#000" stroke-width="0.8"/>
<text x="574.2" y="177.11" font-size="7.05" fill="#000" stroke="#000" stroke-width="0.12">4-isopropylmethylbenzene</text>
<rect x="556.3" y="181.02" width="14.6" height="4.6" fill="#F00AEE" stroke="#000" stroke-width="0.8"/>
<text x="574.2" y="186.22" font-size="7.05" fill="#000" stroke="#000" stroke-width="0.12">1,3-dichlorobenzene</text>
<rect x="556.3" y="190.13" width="14.6" height="4.6" fill="#848210" stroke="#000" stroke-width="0.8"/>
<text x="574.2" y="195.34" font-size="7.05" fill="#000" stroke="#000" stroke-width="0.12">n-butylbenzene</text>
<rect x="556.3" y="199.25" width="14.6" height="4.6" fill="#00007E" stroke="#000" stroke-width="0.8"/>
<text x="574.2" y="204.45" font-size="7.05" fill="#000" stroke="#000" stroke-width="0.12">hexchlorobutadiene</text>
</svg>
</body></html>
